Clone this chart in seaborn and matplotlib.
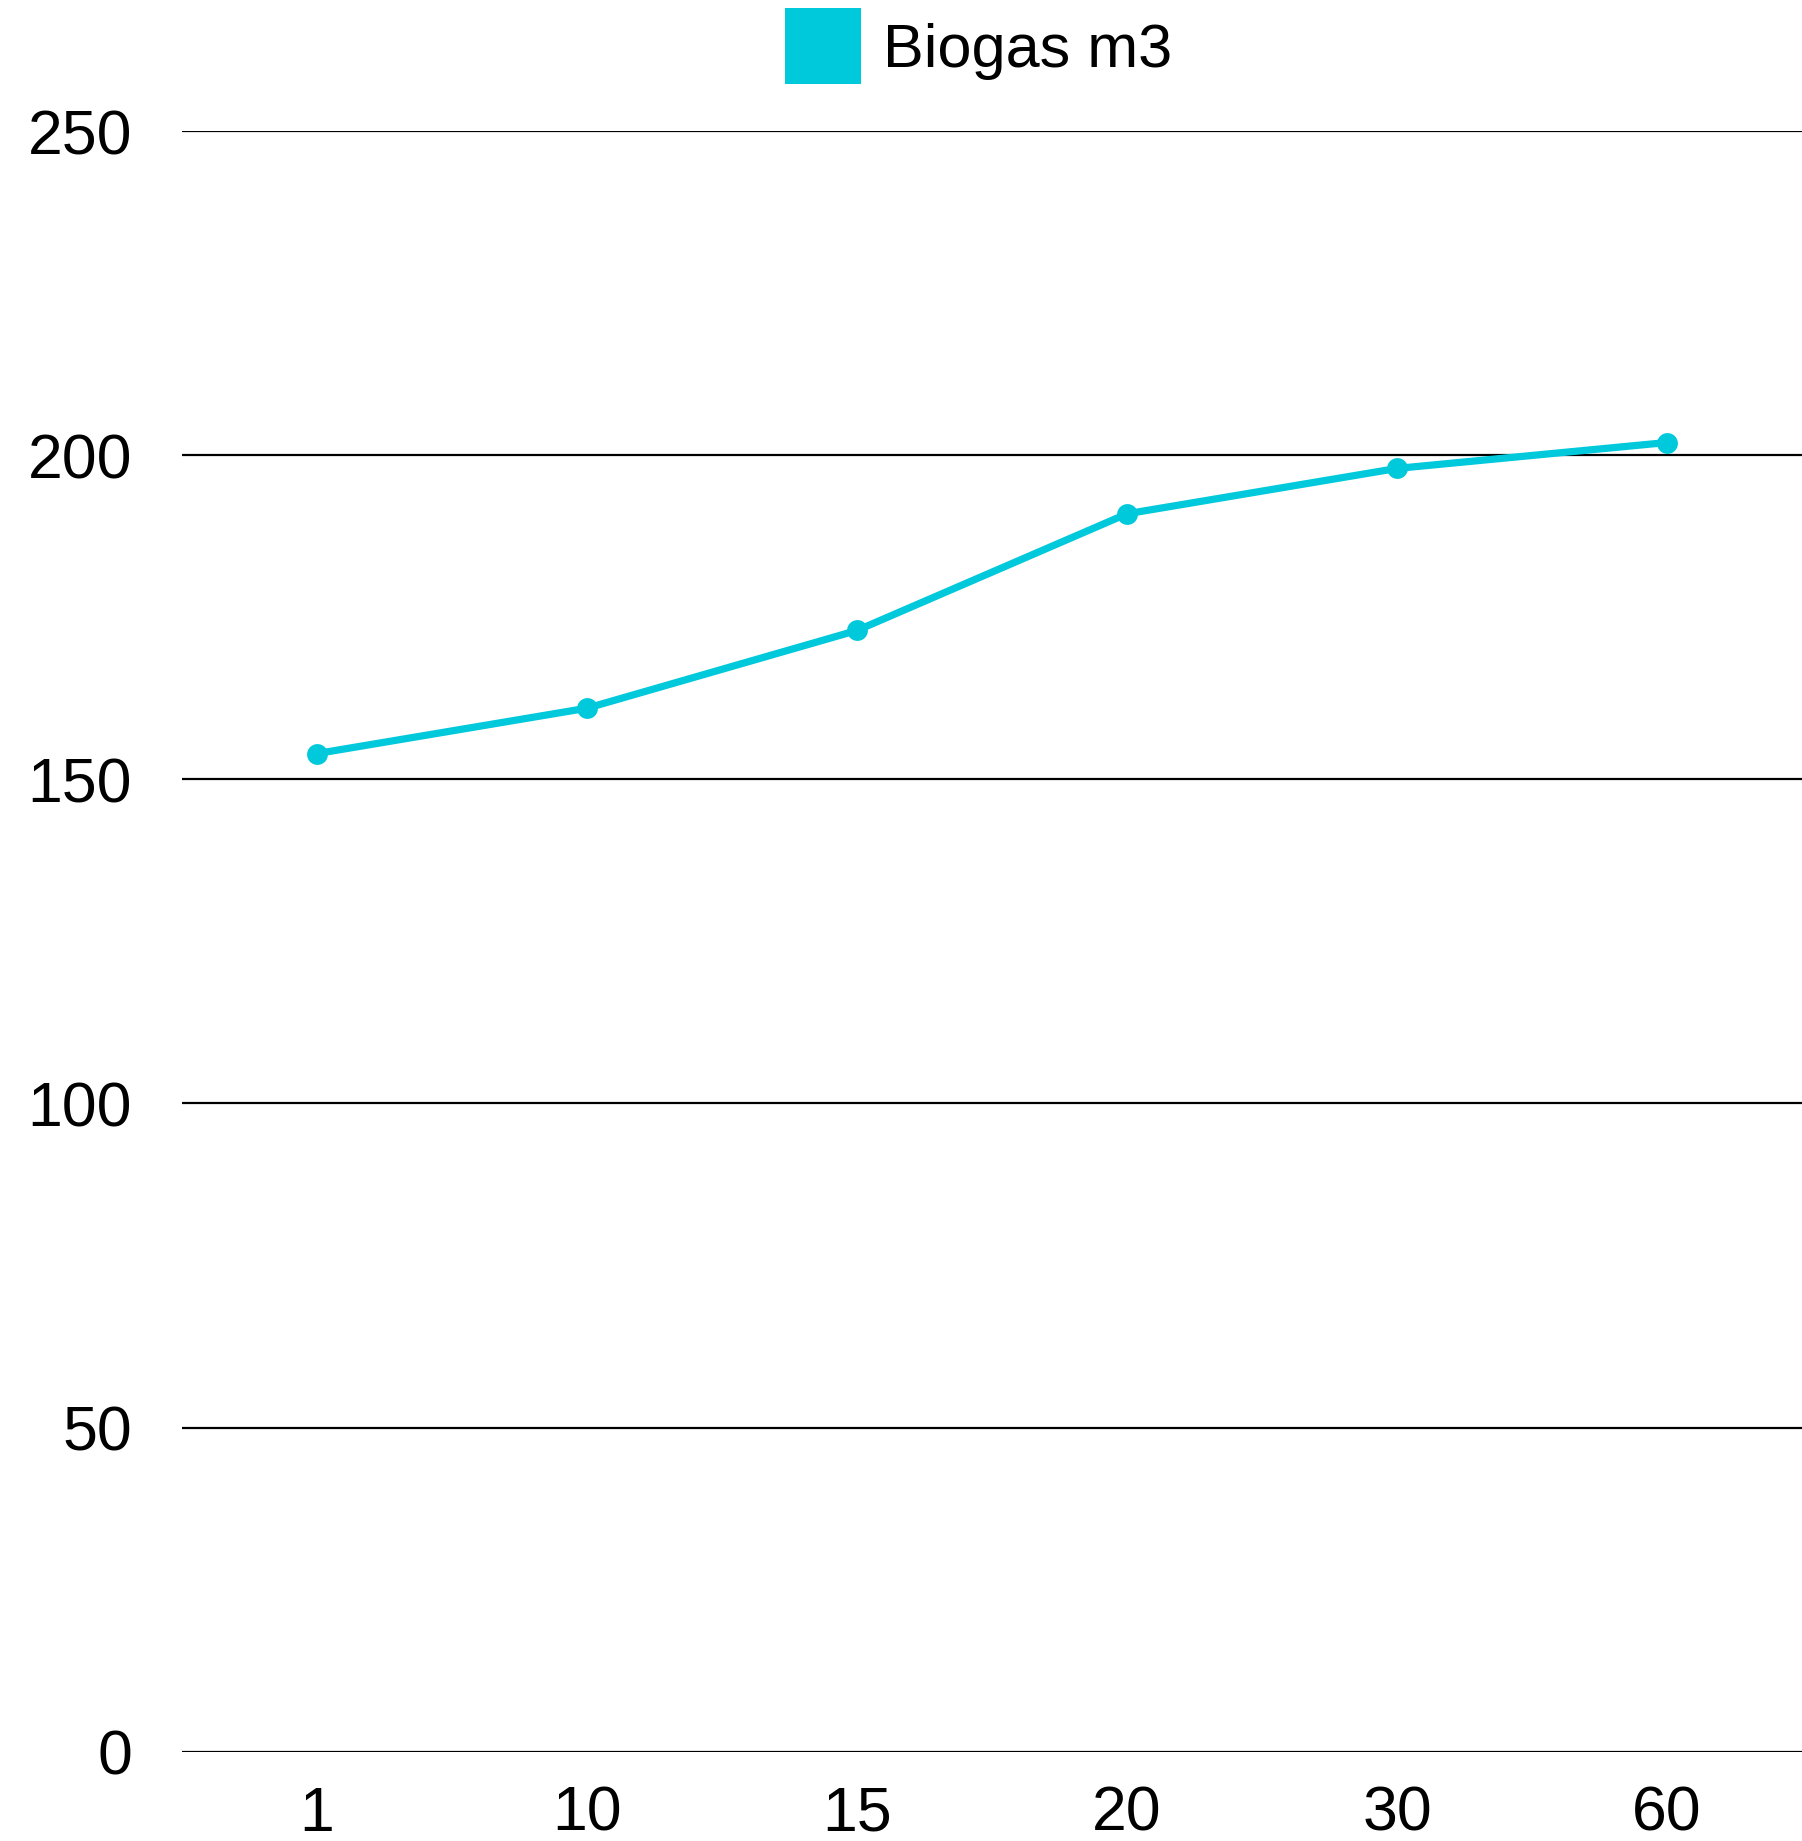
import pandas as pd
import seaborn as sns
import matplotlib.pyplot as plt
from matplotlib.lines import Line2D

sns.set_style("white")
plt.rcParams['font.family'] = ['Liberation Sans', 'DejaVu Sans']
plt.rcParams['text.color'] = 'black'
plt.rcParams['xtick.color'] = 'black'
plt.rcParams['ytick.color'] = 'black'

days = ['1', '10', '15', '20', '30', '60']
biogas = [154, 161, 173, 191, 198, 202]
yticks = [0, 50, 100, 150, 200, 250]
color = '#00C9DC'

df = pd.DataFrame({'day': days, 'biogas': biogas})

fig = plt.figure(figsize=(18.02, 18.41), dpi=100)
ax = fig.add_axes([0.101, 0.0486, 0.899, 0.880])

sns.lineplot(data=df, x='day', y='biogas', ax=ax, color=color, linewidth=5.2,
             marker='o', markersize=15, markeredgewidth=0, sort=False)

ax.set_xlim(-0.5, 5.5)
ax.set_ylim(0, 250)
ax.set_yticks(yticks)
ax.yaxis.grid(True, color='black', linewidth=1.6)
ax.set_axisbelow(True)
for s in ax.spines.values():
    s.set_visible(False)
ax.tick_params(axis='y', length=0, pad=36, labelsize=45)
ax.tick_params(axis='x', length=0, pad=24, labelsize=45)
ax.set_xlabel('')
ax.set_ylabel('')

# square legend key
handle = Line2D([], [], linestyle='none', marker='s', markersize=55,
                markerfacecolor=color, markeredgewidth=0, label='Biogas m3')
fig.legend(handles=[handle], loc='center', bbox_to_anchor=(0.543, 0.972),
           frameon=False, fontsize=44, handlelength=1.25,
           handletextpad=0.35)

fig.savefig('out.png', dpi=100)
